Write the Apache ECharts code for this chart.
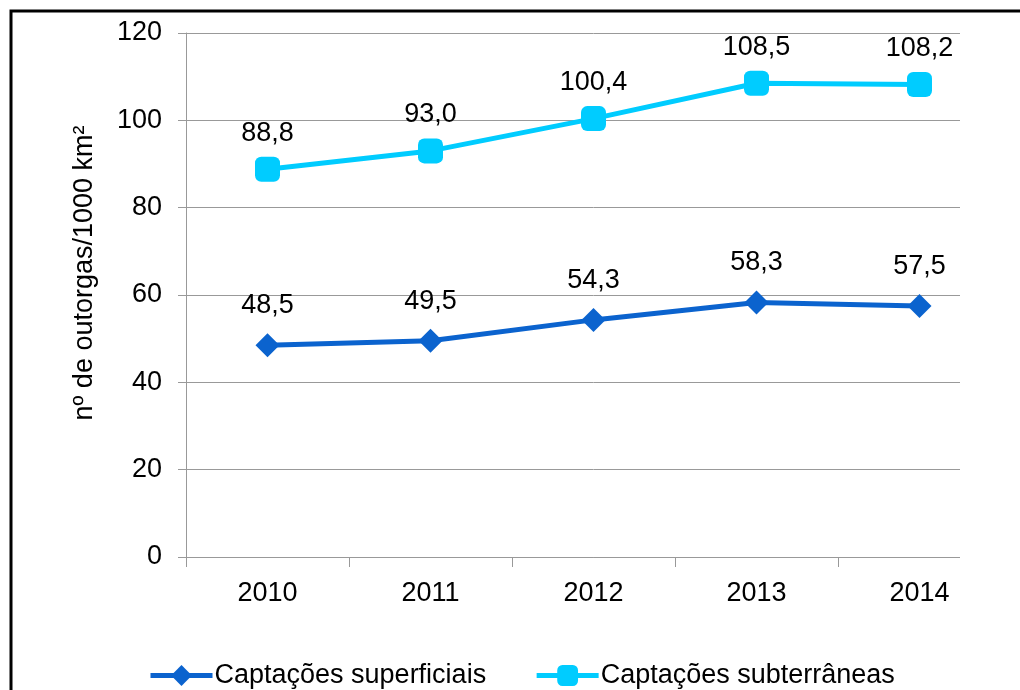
<!DOCTYPE html>
<html>
<head>
<meta charset="utf-8">
<script src="https://cdn.jsdelivr.net/npm/echarts@6/dist/echarts.min.js"></script>
<style>
    html, body { margin: 0; padding: 0; background: #fff; }
    #chart { width: 1020px; height: 690px; }
</style>
</head>
<body>
<div id="chart"></div>
<script>
// dados
var anos = ['2010', '2011', '2012', '2013', '2014'];
var superficiais = [48.5, 49.5, 54.3, 58.3, 57.5];
var subterraneas = [88.8, 93.0, 100.4, 108.5, 108.2];
var nomes = ['Captações superficiais', 'Captações subterrâneas'];

var fonte = '"Liberation Sans", Arial, sans-serif';
var virgula = function (p) {
    return p.value.toFixed(1).replace('.', ',');
};

var myChart = echarts.init(document.getElementById('chart'));
var option = {
    animation: false,
    textStyle: { fontFamily: fonte },
    graphic: [
        {   // moldura
            type: 'rect',
            z: 100,
            shape: { x: 11, y: 11, width: 1040, height: 720 },
            style: { fill: 'none', stroke: '#000', lineWidth: 3 }
        },
        {   // corta as linhas de grade a direita
            type: 'rect',
            z: 1,
            shape: { x: 960, y: 20, width: 58, height: 560 },
            style: { fill: '#fff' }
        }
    ],
    grid: { left: 186, right: 19, top: 33, bottom: 133 },
    legend: {
        bottom: -4,
        left: 143,
        itemWidth: 62,
        itemHeight: 26,
        itemGap: 48,
        lineStyle: { width: 5 },
        textStyle: { fontSize: 27, color: '#000', fontFamily: fonte, padding: [0, 0, 0, -3] },
        data: nomes
    },
    xAxis: {
        type: 'category',
        data: anos,
        boundaryGap: true,
        axisLine: { lineStyle: { color: '#999', width: 1 } },
        axisTick: { show: true, length: 10, interval: 0, lineStyle: { color: '#999' } },
        axisLabel: { fontSize: 27, color: '#000', margin: 23, fontFamily: fonte }
    },
    yAxis: {
        type: 'value',
        min: 0,
        max: 120,
        interval: 20,
        name: 'nº de outorgas/1000 km²',
        nameLocation: 'middle',
        nameRotate: 90,
        nameGap: 88,
        nameTextStyle: { fontSize: 27, color: '#000', fontFamily: fonte, padding: [0, 0, 0, 44] },
        axisLine: { show: true, lineStyle: { color: '#999', width: 1 } },
        axisTick: { show: true, length: 8, lineStyle: { color: '#999' } },
        axisLabel: { fontSize: 27, color: '#000', margin: 24, fontFamily: fonte },
        splitLine: { lineStyle: { color: '#999', width: 1 } }
    },
    series: [
        {
            name: nomes[0],
            type: 'line',
            z: 3,
            data: superficiais,
            symbol: 'diamond',
            symbolSize: 24,
            color: '#0B63CE',
            lineStyle: { width: 5, color: '#0B63CE' },
            itemStyle: { color: '#0B63CE' },
            label: {
                show: true, position: 'top', distance: 14,
                fontSize: 27, color: '#000', fontFamily: fonte,
                formatter: virgula
            }
        },
        {
            name: nomes[1],
            type: 'line',
            z: 3,
            data: subterraneas,
            symbol: 'roundRect',
            symbolSize: 25,
            color: '#00CCFF',
            lineStyle: { width: 5, color: '#00CCFF' },
            itemStyle: { color: '#00CCFF' },
            label: {
                show: true, position: 'top', distance: 10,
                fontSize: 27, color: '#000', fontFamily: fonte,
                formatter: virgula
            }
        }
    ]
};
myChart.setOption(option);
</script>
</body>
</html>
